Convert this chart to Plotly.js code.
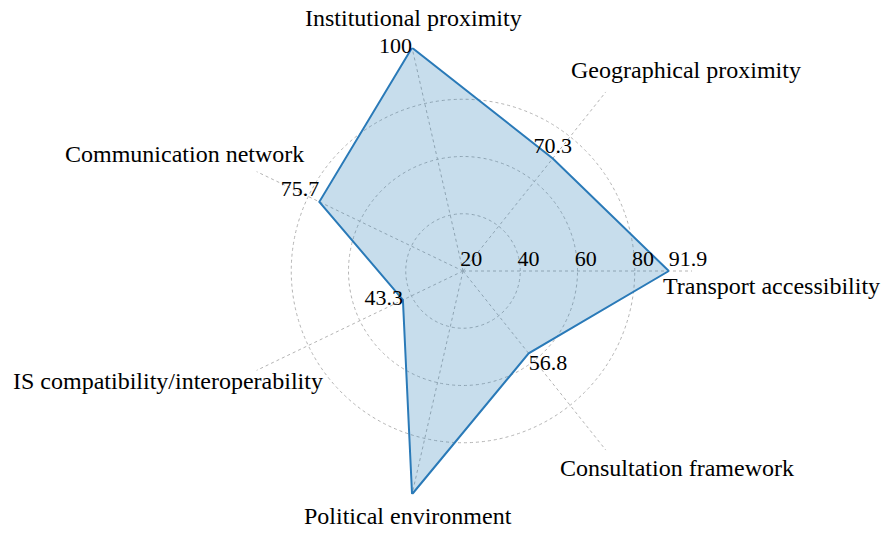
<!DOCTYPE html>
<html><head><meta charset="utf-8">
<script src="https://cdn.plot.ly/plotly-3.0.1.min.js"></script>
<style>html,body{margin:0;padding:0;background:#fff}#chart{width:893px;height:538px}</style>
</head><body><div id="chart"></div>
<script>
const categories = ["Transport accessibility","Geographical proximity","Institutional proximity","Communication network","IS compatibility/interoperability","Political environment","Consultation framework"];
const scores = [91.9, 70.3, 100, 75.7, 43.3, 100, 56.8];
const valueLabels = ["91.9","70.3","100","75.7","43.3","","56.8"];
const radialTicks = [20, 40, 60, 80];
const radialTickLabels = ["20","40","60","80"];

const W = 893, H = 538;
const FONT = "'Liberation Serif', 'Times New Roman', serif";

// styling: where each value label sits relative to its point
const valuePositions = ["top right","top center","middle left","top left","middle left","top center","bottom right"];
// category label centres in pixels (layout only)
const labelCentres = [[771,286],[686,70],[413,18],[184,154],[168,381],[408,516],[677,468]];

const trace = {
  type: "scatterpolar",
  r: scores.concat([scores[0]]),
  theta: categories.concat([categories[0]]),
  text: valueLabels.concat([""]),
  mode: "lines+text",
  textposition: valuePositions.concat(["top right"]),
  textfont: {family: FONT, size: 22, color: "#000"},
  fill: "toself",
  fillcolor: "rgba(31,119,180,0.25)",
  line: {color: "#2a7ab8", width: 2},
  hoverinfo: "skip",
  cliponaxis: false
};

const annotations = categories.map((c, i) => ({
  text: c, showarrow: false, xref: "paper", yref: "paper",
  x: labelCentres[i][0] / W, y: 1 - labelCentres[i][1] / H,
  xanchor: "center", yanchor: "middle",
  font: {family: FONT, size: 24, color: "#000"}
}));

const cx = 463, cy = 271, R = 229;
const layout = {
  width: W, height: H,
  margin: {l: 0, r: 0, t: 0, b: 0},
  paper_bgcolor: "#fff",
  showlegend: false,
  font: {family: FONT, size: 22, color: "#000"},
  polar: {
    domain: {x: [(cx - R) / W, (cx + R) / W], y: [1 - (cy + R) / H, 1 - (cy - R) / H]},
    bgcolor: "rgba(0,0,0,0)",
    radialaxis: {
      range: [20, 100], angle: 0, side: "counterclockwise",
      tickvals: radialTicks,
      ticktext: radialTickLabels.map(t => "\u00A0\u00A0\u00A0" + t),
      showline: false, ticks: "",
      gridcolor: "#b4b4b4", gridwidth: 1, griddash: "dot",
      tickfont: {family: FONT, size: 22, color: "#000"},
      tickangle: 0
    },
    angularaxis: {
      rotation: 0, direction: "counterclockwise",
      showticklabels: false, ticks: "", showline: false,
      gridcolor: "#b4b4b4", gridwidth: 1, griddash: "dot"
    }
  },
  annotations: annotations
};

Plotly.newPlot("chart", [trace], layout, {displayModeBar: false, staticPlot: true});
</script>
</body></html>
